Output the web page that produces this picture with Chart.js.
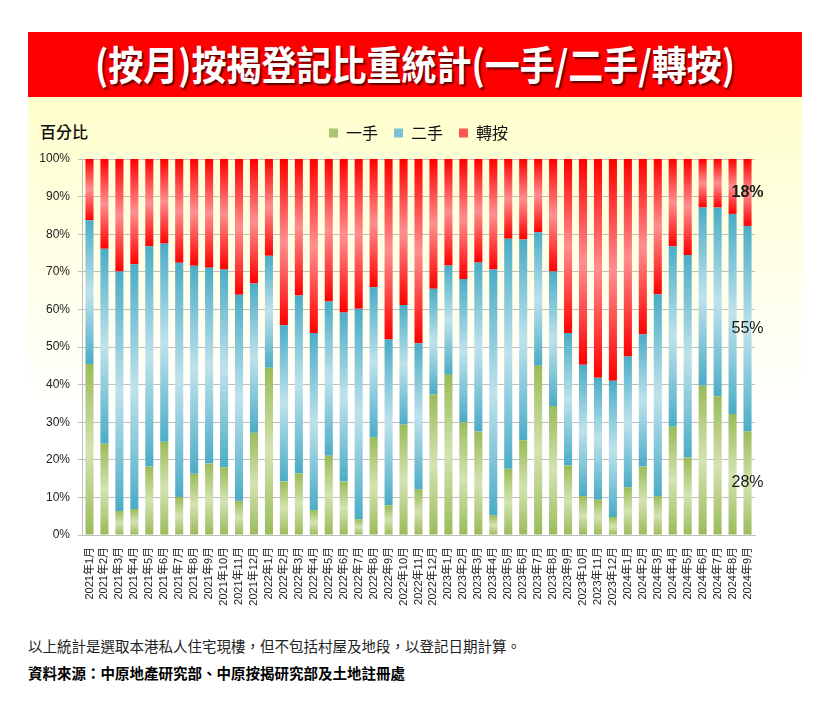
<!DOCTYPE html>
<html>
<head>
<meta charset="utf-8">
<script src="https://cdn.jsdelivr.net/npm/chart.js@4.4.1/dist/chart.umd.min.js"></script>
<style>
  html, body { margin: 0; padding: 0; background: #ffffff; }
  body { width: 823px; height: 716px; position: relative; overflow: hidden;
         font-family: "Noto Sans CJK TC", "Liberation Sans", sans-serif; }
  #banner { position: absolute; left: 28px; top: 32px; width: 774px; height: 65px; background: #ff0000; }
  #banner h1 { margin: 0; position: absolute; left: 0; right: 0; top: 5px; text-align: center;
               color: #fff; font-size: 40px; font-weight: 700; line-height: 52px; white-space: nowrap;
               transform: scaleX(0.875); text-shadow: 2px 2px 2px rgba(60,0,0,0.85); }
  #panel { position: absolute; left: 28px; top: 97px; width: 774px; height: 523px;
           background: linear-gradient(to bottom, #ffffcc 0%, #ffffe6 30%, #ffffff 60%, #ffffff 100%); }
  #ylab { position: absolute; left: 40px; top: 119px; font-size: 16px; color: #111; font-weight: 500; }
  #chartbox { position: absolute; left: 28px; top: 97px; width: 774px; height: 520px; }
  .note { position: absolute; left: 28px; font-size: 14.5px; color: #222; white-space: nowrap; }
  #note1 { top: 635px; }
  #note2 { top: 662px; font-weight: 700; color: #000; }
</style>
</head>
<body>
<div id="banner"><h1>(按月)按揭登記比重統計(一手/二手/轉按)</h1></div>
<div id="panel"></div>
<div id="ylab">百分比</div>
<div id="chartbox"><canvas id="c"></canvas></div>
<div class="note" id="note1">以上統計是選取本港私人住宅現樓，但不包括村屋及地段，以登記日期計算。</div>
<div class="note" id="note2">資料來源：中原地產研究部、中原按揭研究部及土地註冊處</div>
<script>
const categories = [
  '2021年1月','2021年2月','2021年3月','2021年4月','2021年5月','2021年6月',
  '2021年7月','2021年8月','2021年9月','2021年10月','2021年11月','2021年12月',
  '2022年1月','2022年2月','2022年3月','2022年4月','2022年5月','2022年6月',
  '2022年7月','2022年8月','2022年9月','2022年10月','2022年11月','2022年12月',
  '2023年1月','2023年2月','2023年3月','2023年4月','2023年5月','2023年6月',
  '2023年7月','2023年8月','2023年9月','2023年10月','2023年11月','2023年12月',
  '2024年1月','2024年2月','2024年3月','2024年4月','2024年5月','2024年6月',
  '2024年7月','2024年8月','2024年9月'
];
const seriesNames = ['一手', '二手', '轉按'];
const firstHand = [
  45.5, 24.3, 6.4, 6.9, 18.2, 24.8, 10.1, 16.3, 19.0, 18.0, 9.1, 27.2,
  44.5, 14.2, 16.4, 6.6, 21.1, 14.2, 4.2, 26.0, 7.9, 29.4, 12.1, 37.4,
  42.6, 30.0, 27.5, 5.2, 17.6, 25.2, 45.0, 34.3, 18.5, 10.4, 9.4, 4.8,
  12.7, 18.2, 10.4, 28.8, 20.6, 39.7, 36.9, 32.2, 27.6
];
const secondHand = [
  38.2, 51.8, 63.7, 65.1, 58.6, 52.7, 62.3, 55.3, 52.1, 52.6, 54.8, 39.7,
  29.8, 41.6, 47.3, 47.1, 41.0, 45.0, 56.0, 39.9, 44.1, 31.8, 38.9, 28.1,
  29.1, 38.1, 45.0, 65.4, 61.2, 53.4, 35.5, 35.8, 35.2, 34.9, 32.4, 36.2,
  34.8, 35.2, 53.6, 48.0, 53.9, 47.4, 50.2, 53.2, 54.6
];
const resale = [
  16.3, 23.9, 29.9, 28.0, 23.2, 22.5, 27.6, 28.4, 28.9, 29.4, 36.1, 33.1,
  25.7, 44.2, 36.3, 46.3, 37.9, 40.8, 39.8, 34.1, 48.0, 38.8, 49.0, 34.5,
  28.3, 31.9, 27.5, 29.4, 21.2, 21.4, 19.5, 29.9, 46.3, 54.7, 58.2, 59.0,
  52.5, 46.6, 36.0, 23.2, 25.5, 12.9, 12.9, 14.6, 17.8
];
const yTickValues = [0, 10, 20, 30, 40, 50, 60, 70, 80, 90, 100];

const allSeries = [firstHand, secondHand, resale];
const edgeColors = ['#9bbb59', '#4bacc6', '#ff0000'];
const midColors  = ['#d3e3b2', '#bfe2ec', '#ff9090'];
const legendColors = ['#a9c56f', '#7cc2d6', '#ff5555'];

function segmentFill(dsIndex) {
  return function (ctx) {
    const chart = ctx.chart;
    const i = ctx.dataIndex;
    if (i === undefined || !chart.chartArea || !chart.scales.y) return edgeColors[dsIndex];
    let start = 0;
    for (let k = 0; k < dsIndex; k++) start += allSeries[k][i];
    const end = start + allSeries[dsIndex][i];
    const y0 = chart.scales.y.getPixelForValue(start);
    const y1 = chart.scales.y.getPixelForValue(end);
    if (!isFinite(y0) || !isFinite(y1) || y0 === y1) return edgeColors[dsIndex];
    const g = chart.ctx.createLinearGradient(0, y1, 0, y0);
    g.addColorStop(0, edgeColors[dsIndex]);
    g.addColorStop(0.5, midColors[dsIndex]);
    g.addColorStop(1, edgeColors[dsIndex]);
    return g;
  };
}

const legendExtra = {
  id: 'legendExtra',
  beforeInit(chart) {
    const lg = chart.legend;
    if (!lg || lg._patched) return;
    const orig = lg.fit.bind(lg);
    lg.fit = function () { orig(); this.height += 8; };
    lg._patched = true;
  }
};

const lastBarLabels = {
  id: 'lastBarLabels',
  afterDatasetsDraw(chart) {
    const ctx = chart.ctx;
    const last = categories.length - 1;
    ctx.save();
    ctx.textAlign = 'center';
    ctx.textBaseline = 'middle';
    ctx.fillStyle = '#1a1a1a';
    chart.data.datasets.forEach((ds, di) => {
      const el = chart.getDatasetMeta(di).data[last];
      if (!el) return;
      const yMid = (el.y + el.base) / 2;
      ctx.font = (di === 2 ? '700 ' : '400 ') + '16px "Liberation Sans", Arial, sans-serif';
      ctx.fillText(Math.round(ds.data[last]) + '%', el.x, yMid);
    });
    ctx.restore();
  }
};

const fontFamily = '"Liberation Sans", Arial, "Noto Sans CJK TC", sans-serif';

new Chart(document.getElementById('c'), {
  type: 'bar',
  data: {
    labels: categories,
    datasets: allSeries.map((arr, k) => ({
      label: seriesNames[k],
      data: arr,
      backgroundColor: segmentFill(k),
      borderWidth: 0,
      barPercentage: 0.54,
      categoryPercentage: 1.0
    }))
  },
  options: {
    responsive: true,
    maintainAspectRatio: false,
    animation: false,
    layout: { padding: { top: 12, right: 47, bottom: 0, left: 0 } },
    plugins: {
      legend: {
        display: true,
        position: 'top',
        fullSize: false,
        labels: {
          boxWidth: 9,
          boxHeight: 9,
          padding: 16,
          color: '#111',
          font: { size: 16, family: '"Noto Sans CJK TC", sans-serif' },
          generateLabels(chart) {
            return chart.data.datasets.map((ds, i) => ({
              text: ds.label,
              fillStyle: legendColors[i],
              strokeStyle: legendColors[i],
              lineWidth: 0,
              hidden: false,
              datasetIndex: i,
              fontColor: '#111'
            }));
          }
        }
      },
      tooltip: { enabled: false },
      title: { display: false }
    },
    scales: {
      x: {
        stacked: true,
        grid: { display: false },
        border: { display: true, color: '#bfbfbf' },
        ticks: {
          autoSkip: false,
          maxRotation: 90,
          minRotation: 90,
          padding: 4,
          color: '#222',
          font: { size: 11, family: fontFamily }
        },
        afterFit(s) { s.height = 82; }
      },
      y: {
        stacked: true,
        min: 0,
        max: 100,
        afterBuildTicks(s) { s.ticks = yTickValues.map(v => ({ value: v })); },
        grid: { color: '#bfbfbf', lineWidth: 1, tickLength: 4 },
        border: { display: true, color: '#bfbfbf' },
        ticks: {
          padding: 8,
          color: '#222',
          font: { size: 12, family: fontFamily },
          callback: v => v + '%'
        },
        afterFit(s) { s.width = 54; }
      }
    }
  },
  plugins: [legendExtra, lastBarLabels]
});
</script>
</body>
</html>
